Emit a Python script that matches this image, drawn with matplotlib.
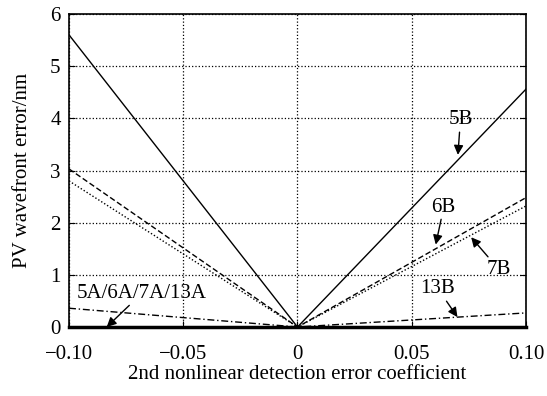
import numpy as np
import matplotlib
matplotlib.use("Agg")
import matplotlib.pyplot as plt

plt.rcParams['font.family'] = ['Liberation Serif', 'DejaVu Serif']
plt.rcParams['mathtext.fontset'] = 'stix'

# 2nd nonlinear detection error coefficient
coef = [-0.10, 0.0, 0.10]

# PV wavefront error (nm) for each case
pv_5b = [5.60, 0.0, 4.56]
pv_6b = [3.03, 0.0, 2.48]
pv_7b = [2.80, 0.0, 2.32]
pv_13b = [0.36, 0.0, 0.27]
pv_a = [0.0, 0.0, 0.0]  # 5A/6A/7A/13A

xticks = [-0.10, -0.05, 0.0, 0.05, 0.10]
xtick_labels = ['\u22120.10', '\u22120.05', '0', '0.05', '0.10']
yticks = [0, 1, 2, 3, 4, 5, 6]

fig = plt.figure(figsize=(5.47, 3.96), dpi=100)
ax = fig.add_axes([69 / 547, 1 - 327 / 396, (526 - 69) / 547, (327 - 14) / 396])

ax.plot(coef, pv_5b, color='black', lw=1.0, ls='-')
ax.plot(coef, pv_6b, color='black', lw=1.0, ls=(0, (4, 2)))
ax.plot(coef, pv_7b, color='black', lw=1.0, ls=(0, (1, 1.5)))
ax.plot(coef, pv_13b, color='black', lw=1.0, ls=(0, (5, 2, 1, 2)))
ax.plot(coef, pv_a, color='black', lw=2.5, ls='-', clip_on=False)

ax.set_xlim(-0.10, 0.10)
ax.set_ylim(0, 6)
ax.set_xticks(xticks)
ax.set_xticklabels(xtick_labels)
ax.set_yticks(yticks)
ax.grid(True, color='black', ls=':', lw=0.9)
ax.tick_params(direction='in', length=4, labelsize=15, top=False, right=True)
ax.tick_params(axis='x', pad=13)
ax.tick_params(axis='y', pad=6)
for s in ax.spines.values():
    s.set_linewidth(1.2)

ax.set_xlabel('2nd nonlinear detection error coefficient', fontsize=15, labelpad=1)
ax.set_ylabel('PV wavefront error/nm', fontsize=15, labelpad=13)

arrow = dict(arrowstyle='-|>', color='black', lw=1.0, mutation_scale=14, shrinkA=0, shrinkB=0)
ann = dict(fontsize=15, ha='center', va='center', arrowprops=arrow)
ax.annotate('5B', xy=(0.0702, 3.30), xytext=(0.0713, 3.97), **ann)
ax.annotate('6B', xy=(0.0605, 1.58), xytext=(0.0640, 2.30), **ann)
ax.annotate('7B', xy=(0.0760, 1.72), xytext=(0.0880, 1.11), **ann)
ax.annotate('13B', xy=(0.0700, 0.19), xytext=(0.0615, 0.73), **ann)
ax.annotate('5A/6A/7A/13A', xy=(-0.0835, 0.0), xytext=(-0.0680, 0.65), **ann)

fig.savefig('out.png', dpi=100)
